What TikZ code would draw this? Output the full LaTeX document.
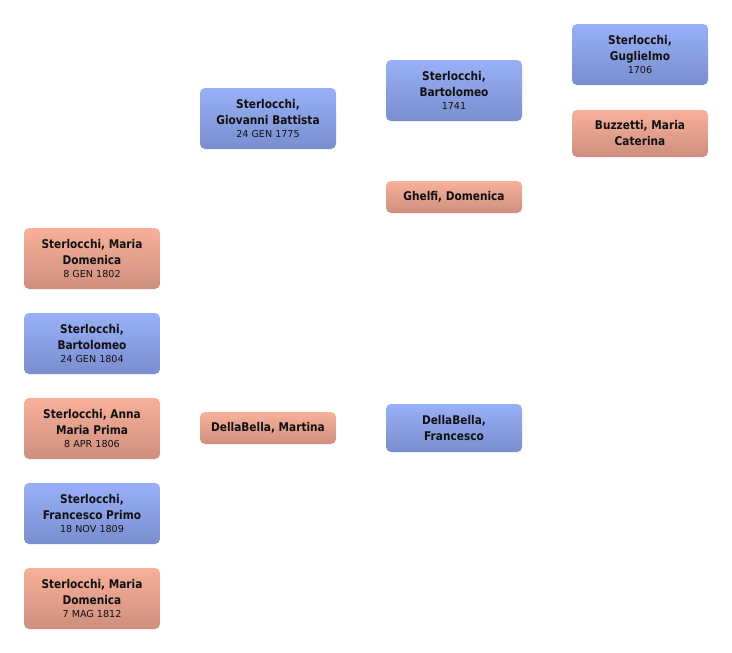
\documentclass[tikz,border=0pt]{standalone}
\usepackage{fontspec}
\newfontfamily\nmfont{DejaVu Sans}[FakeStretch=0.88]
\newfontfamily\dtfont{DejaVu Sans}
\newcommand\nmtxt{\nmfont\bfseries\fontsize{12}{16}\selectfont}
\newcommand\dttxt{\dtfont\mdseries\fontsize{9.6}{16}\selectfont}
\definecolor{bluetop}{HTML}{98B0F8}
\definecolor{bluebot}{HTML}{7A8ECE}
\definecolor{pinktop}{HTML}{F8B09A}
\definecolor{pinkbot}{HTML}{CE8F7E}
\definecolor{txt}{HTML}{111111}
\tikzset{
  person/.style={rectangle, rounded corners=5pt, minimum width=136pt, inner sep=0pt,
    align=center, text=txt, font=\nmtxt},
  male/.style={person, top color=bluetop, bottom color=bluebot},
  female/.style={person, top color=pinktop, bottom color=pinkbot},
}
\begin{document}
\begin{tikzpicture}[x=1pt,y=-1pt]
\useasboundingbox (0,0) rectangle (732,653);
% column 1
\node[female, minimum height=61pt] (c1) at (92,258.5) {Sterlocchi, Maria\\Domenica\\[-3.7pt]{\dttxt 8 GEN 1802}};
\node[male, minimum height=61pt] (c2) at (92,343.5) {Sterlocchi,\\Bartolomeo\\[-3.7pt]{\dttxt 24 GEN 1804}};
\node[female, minimum height=61pt] (c3) at (92,428.5) {Sterlocchi, Anna\\Maria Prima\\[-3.7pt]{\dttxt 8 APR 1806}};
\node[male, minimum height=61pt] (c4) at (92,513.5) {Sterlocchi,\\Francesco Primo\\[-3.7pt]{\dttxt 18 NOV 1809}};
\node[female, minimum height=61pt] (c5) at (92,598.5) {Sterlocchi, Maria\\Domenica\\[-3.7pt]{\dttxt 7 MAG 1812}};
% column 2
\node[male, minimum height=61pt] (f) at (268,118.5) {Sterlocchi,\\Giovanni Battista\\[-3.7pt]{\dttxt 24 GEN 1775}};
\node[female, minimum height=32pt] (m) at (268,428) {DellaBella, Martina};
% column 3
\node[male, minimum height=61pt] (ff) at (454,90.5) {Sterlocchi,\\Bartolomeo\\[-3.7pt]{\dttxt 1741}};
\node[female, minimum height=32pt] (fm) at (454,197) {Ghelfi, Domenica};
\node[male, minimum height=48pt] (mf) at (454,428) {DellaBella,\\Francesco};
% column 4
\node[male, minimum height=61pt] (fff) at (640,54.5) {Sterlocchi,\\Guglielmo\\[-3.7pt]{\dttxt 1706}};
\node[female, minimum height=47pt] (ffm) at (640,133.5) {Buzzetti, Maria\\Caterina};
\end{tikzpicture}
\end{document}
